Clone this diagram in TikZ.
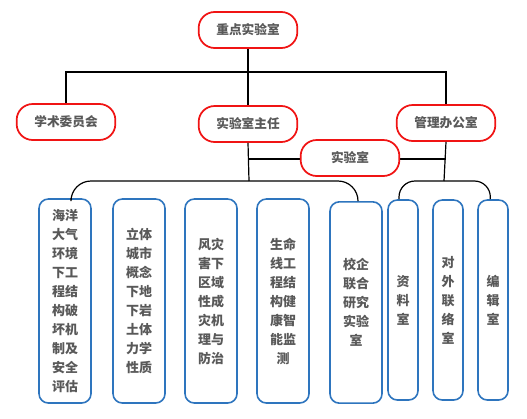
\documentclass[tikz,border=0pt]{standalone}
\usepackage{fontspec}
\setmainfont{Noto Sans CJK SC}
\usetikzlibrary{positioning}
\definecolor{boxred}{RGB}{240,20,20}
\definecolor{boxblue}{RGB}{46,117,190}
\definecolor{txtgray}{RGB}{89,89,89}
\tikzset{
  headnode/.style={
    rectangle, rounded corners=12pt,
    minimum width=74pt, minimum height=27pt,
    text centered, font=\fontsize{9.5}{11}\selectfont\bfseries,
    draw=boxred, line width=1.3pt, fill=white, text=txtgray
  },
  unitnode/.style={
    rectangle, rounded corners=7pt,
    minimum width=#1, minimum height=153pt,
    align=center, font=\fontsize{9.75}{14.25}\selectfont\bfseries,
    draw=boxblue, line width=1.2pt, fill=white, text=txtgray
  },
  link/.style={line width=0.9pt, draw=black},
}

\begin{document}
\begin{tikzpicture}[x=0.75pt, y=-0.75pt]
    \useasboundingbox (0,0) rectangle (527,418);

    % upper levels
    \node[headnode] (top)    at (248, 30)  {重点实验室};
    \node[headnode] (xswy)   at (66, 122)  {学术委员会};
    \node[headnode] (zhuren) at (248, 124) {实验室主任};
    \node[headnode] (guanli) at (446, 123) {管理办公室};

    \coordinate (bar)  at (249, 72);
    \coordinate (lbar) at (249, 181);
    \coordinate (rbar) at (444, 181);

    \draw[link] (top.south) -- (zhuren.north);
    \draw[link] (xswy.north) |- (bar) -| (guanli.north);
    \draw[link] (zhuren.south) -- (lbar);
    \draw[link] (guanli.south) -- (rbar);
    \draw[link] (zhuren.south |- 0,159) -- (guanli.south |- 0,159);

    \node[headnode] (sys) at (350, 158) {实验室};

    % research units
    \node[unitnode=39pt] (b1) at (65, 301)  {海洋\\大气\\环境\\下工\\程结\\构破\\坏机\\制及\\安全\\评估};
    \node[unitnode=39pt] (b2) at (139, 301) {立体\\城市\\概念\\下地\\下岩\\土体\\力学\\性质};
    \node[unitnode=39pt] (b3) at (211, 301) {风灾\\害下\\区域\\性成\\灾机\\理与\\防治};
    \node[unitnode=39pt] (b4) at (283, 301) {生命\\线工\\程结\\构健\\康智\\能监\\测};
    \node[unitnode=39pt, minimum height=151pt] (b5) at (356, 302.5) {校企\\联合\\研究\\实验\\室};

    % office units
    \node[unitnode=22.5pt, minimum height=150pt] (b6) at (403, 300) {资\\料\\室};
    \node[unitnode=22.5pt, minimum height=150pt] (b7) at (448, 300) {对\\外\\联\\络\\室};
    \node[unitnode=22.5pt, minimum height=150pt] (b8) at (493, 300) {编\\辑\\室};

    \draw[link, rounded corners=15pt] ([xshift=4.5pt]b1.north) |- (lbar) -| ([xshift=1.5pt]b5.north);
    \draw[link, rounded corners=12pt] ([xshift=-3pt]b6.north) |- (rbar) -| ([xshift=-2pt]b8.north);

  \end{tikzpicture}
\end{document}
